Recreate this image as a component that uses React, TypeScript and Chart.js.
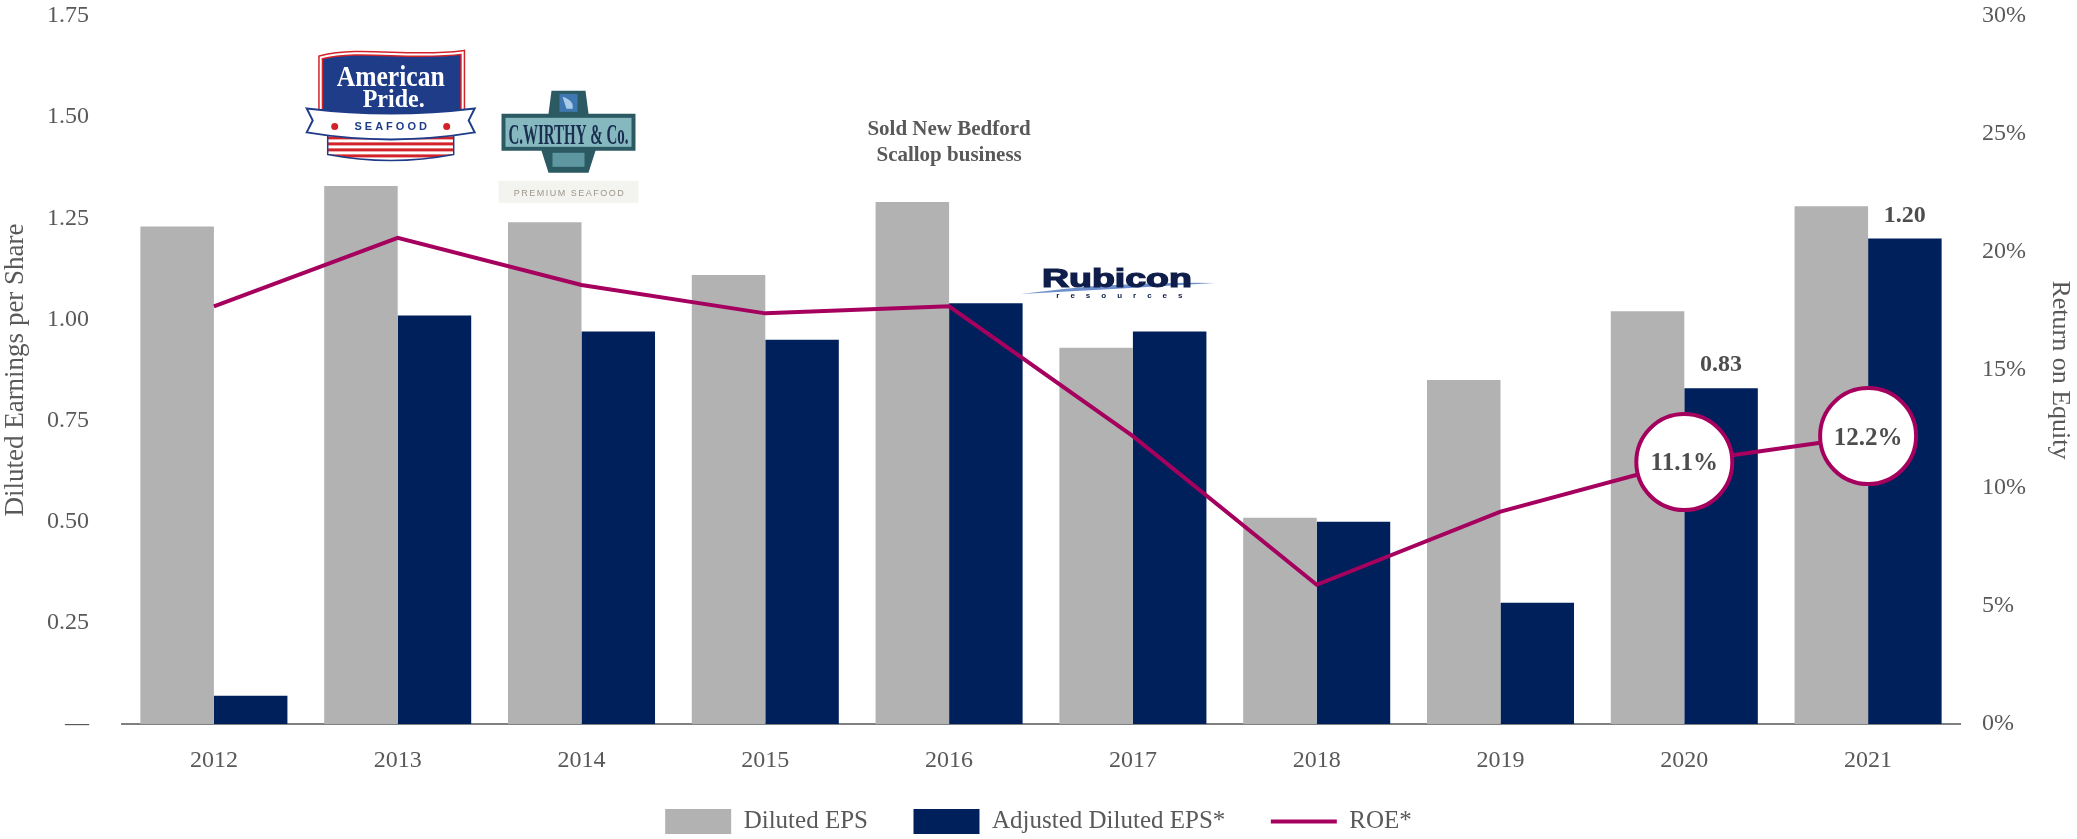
import React, { useEffect, useRef } from "react";
import { Chart, registerables } from "chart.js";

Chart.register(...registerables);

const years = ["2012", "2013", "2014", "2015", "2016", "2017", "2018", "2019", "2020", "2021"];
const dilutedEps = [1.23, 1.33, 1.24, 1.11, 1.29, 0.93, 0.51, 0.85, 1.02, 1.28];
const adjustedEps = [0.07, 1.01, 0.97, 0.95, 1.04, 0.97, 0.50, 0.30, 0.83, 1.20];
const roe = [17.7, 20.6, 18.6, 17.4, 17.7, 12.2, 5.9, 9.0, 11.1, 12.2];

const epsTicks = [0, 0.25, 0.5, 0.75, 1.0, 1.25, 1.5, 1.75];
const roeTicks = [0, 5, 10, 15, 20, 25, 30];

const adjustedLabelYears = ["2020", "2021"];
const roeCalloutYears = ["2020", "2021"];

const annotationYear = "2016";
const annotationLines = ["Sold New Bedford", "Scallop business"];

const FONT = '"Liberation Serif", "Times New Roman", serif';
const GRAY = "#B1B2B1";
const NAVY = "#00205C";
const MAGENTA = "#A6005F";
const TEXT = "#595959";

function drawAmericanPride(ctx: CanvasRenderingContext2D, cx: number, t: number) {
  ctx.save();
  ctx.save();
  ctx.beginPath();
  ctx.moveTo(cx - 63, t + 84);
  ctx.lineTo(cx + 63, t + 84);
  ctx.lineTo(cx + 63, t + 104);
  ctx.quadraticCurveTo(cx, t + 116, cx - 63, t + 104);
  ctx.closePath();
  ctx.fillStyle = "#ffffff";
  ctx.fill();
  ctx.clip();
  ctx.fillStyle = "#D2232A";
  for (let k = 0; k < 5; k++) ctx.fillRect(cx - 66, t + 86 + k * 6, 132, 3);
  ctx.restore();
  ctx.beginPath();
  ctx.moveTo(cx - 63, t + 84);
  ctx.lineTo(cx - 63, t + 104);
  ctx.quadraticCurveTo(cx, t + 116, cx + 63, t + 104);
  ctx.lineTo(cx + 63, t + 84);
  ctx.strokeStyle = "#1F3C88";
  ctx.lineWidth = 1.5;
  ctx.stroke();

  ctx.beginPath();
  ctx.moveTo(cx - 70, t + 7);
  ctx.bezierCurveTo(cx - 30, t - 3, cx + 20, t + 9, cx + 72, t + 2);
  ctx.lineTo(cx + 72, t + 70);
  ctx.lineTo(cx - 70, t + 70);
  ctx.closePath();
  ctx.fillStyle = "#1F3C88";
  ctx.fill();
  ctx.lineWidth = 5;
  ctx.strokeStyle = "#D2232A";
  ctx.stroke();
  ctx.lineWidth = 2;
  ctx.strokeStyle = "#ffffff";
  ctx.stroke();

  ctx.fillStyle = "#ffffff";
  ctx.textAlign = "center";
  ctx.textBaseline = "alphabetic";
  ctx.font = `bold 29px ${FONT}`;
  ctx.fillText("American", cx, t + 36, 108);
  ctx.font = `bold 25px ${FONT}`;
  ctx.fillText("Pride.", cx + 3, t + 57, 62);

  ctx.beginPath();
  ctx.moveTo(cx - 84, t + 58);
  ctx.quadraticCurveTo(cx, t + 68, cx + 84, t + 58);
  ctx.lineTo(cx + 78, t + 70);
  ctx.lineTo(cx + 84, t + 82);
  ctx.quadraticCurveTo(cx, t + 96, cx - 84, t + 82);
  ctx.lineTo(cx - 78, t + 70);
  ctx.closePath();
  ctx.fillStyle = "#ffffff";
  ctx.fill();
  ctx.lineWidth = 2;
  ctx.strokeStyle = "#1F3C88";
  ctx.stroke();

  ctx.fillStyle = "#1F3C88";
  ctx.font = 'bold 11px "Liberation Sans", sans-serif';
  (ctx as any).letterSpacing = "3px";
  ctx.textBaseline = "middle";
  ctx.fillText("SEAFOOD", cx + 1.5, t + 77);
  (ctx as any).letterSpacing = "0px";
  ctx.fillStyle = "#D2232A";
  [-56, 56].forEach((dx) => {
    ctx.beginPath();
    ctx.arc(cx + dx, t + 76, 3.5, 0, Math.PI * 2);
    ctx.fill();
  });
  ctx.restore();
}

function drawWirthy(ctx: CanvasRenderingContext2D, cx: number, t: number) {
  ctx.save();
  ctx.fillStyle = "#F3F3EF";
  ctx.fillRect(cx - 70, t + 92, 140, 22);
  const pts = [
    [-67, 25], [-20, 25], [-17, 2], [17, 2], [20, 25], [67, 25],
    [67, 62], [27, 62], [20, 84], [-20, 84], [-27, 62], [-67, 62],
  ];
  ctx.beginPath();
  pts.forEach(([x, y], i) => (i === 0 ? ctx.moveTo(cx + x, t + y) : ctx.lineTo(cx + x, t + y)));
  ctx.closePath();
  ctx.fillStyle = "#2C5A62";
  ctx.fill();
  ctx.fillStyle = "#86B9BF";
  ctx.fillRect(cx - 63, t + 29, 126, 29);
  ctx.fillStyle = "#5E97A0";
  ctx.fillRect(cx - 16, t + 64, 32, 14);
  ctx.fillStyle = "#3F78B0";
  ctx.fillRect(cx - 9, t + 5, 18, 18);
  ctx.fillStyle = "#A9CBEA";
  ctx.beginPath();
  ctx.moveTo(cx - 6, t + 8);
  ctx.quadraticCurveTo(cx + 6, t + 12, cx + 4, t + 20);
  ctx.lineTo(cx - 2, t + 20);
  ctx.closePath();
  ctx.fill();
  ctx.fillStyle = "#1A2E50";
  ctx.textAlign = "center";
  ctx.textBaseline = "alphabetic";
  ctx.font = `bold 30px ${FONT}`;
  ctx.fillText("C.WIRTHY & Co.", cx, t + 55, 120);
  ctx.fillStyle = "#9C968C";
  ctx.font = '9px "Liberation Sans", sans-serif';
  (ctx as any).letterSpacing = "1.5px";
  ctx.textBaseline = "middle";
  ctx.fillText("PREMIUM SEAFOOD", cx + 1, t + 105);
  (ctx as any).letterSpacing = "0px";
  ctx.restore();
}

function drawRubicon(ctx: CanvasRenderingContext2D, cx: number, base: number) {
  ctx.save();
  ctx.beginPath();
  ctx.moveTo(cx - 96, base + 7);
  ctx.quadraticCurveTo(cx, base - 6, cx + 98, base - 4);
  ctx.quadraticCurveTo(cx, base + 2, cx - 96, base + 7);
  ctx.fillStyle = "#6D8FCC";
  ctx.fill();
  ctx.translate(cx, base);
  ctx.scale(1.5, 1);
  ctx.textAlign = "center";
  ctx.textBaseline = "alphabetic";
  ctx.font = 'bold 25px "Liberation Sans", sans-serif';
  ctx.fillStyle = "#0E1D4A";
  ctx.strokeStyle = "#0E1D4A";
  ctx.lineWidth = 1.2;
  ctx.fillText("Rubicon", 0, 0);
  ctx.strokeText("Rubicon", 0, 0);
  ctx.setTransform(1, 0, 0, 1, 0, 0);
  ctx.font = 'bold 8px "Liberation Sans", sans-serif';
  (ctx as any).letterSpacing = "11px";
  ctx.fillText("resources", cx + 8, base + 11);
  (ctx as any).letterSpacing = "0px";
  ctx.restore();
}

const decorPlugin = {
  id: "decor",
  afterDatasetsDraw(chart: any) {
    const { ctx } = chart;
    const xs = chart.scales.x;
    const ys = chart.scales.y;

    drawAmericanPride(ctx, xs.getPixelForValue(years.indexOf("2013")) - 7, ys.getPixelForValue(1.665));
    drawWirthy(ctx, xs.getPixelForValue(years.indexOf("2014")) - 13, ys.getPixelForValue(1.57));
    drawRubicon(ctx, xs.getPixelForValue(years.indexOf("2017")) - 16, ys.getPixelForValue(1.08));

    ctx.save();
    ctx.textAlign = "center";
    ctx.textBaseline = "middle";
    ctx.fillStyle = TEXT;
    ctx.font = `bold 21px ${FONT}`;
    const ax = xs.getPixelForValue(years.indexOf(annotationYear));
    const ay = ys.getPixelForValue(1.47);
    annotationLines.forEach((line, k) => ctx.fillText(line, ax, ay + k * 26));

    ctx.fillStyle = "#4D4D4D";
    ctx.font = `bold 24px ${FONT}`;
    const adjMeta = chart.getDatasetMeta(1);
    adjustedLabelYears.forEach((yr) => {
      const i = years.indexOf(yr);
      const el = adjMeta.data[i];
      ctx.fillText(adjustedEps[i].toFixed(2), el.x, el.y - 23);
    });
    const roeMeta = chart.getDatasetMeta(2);
    ctx.font = `bold 25px ${FONT}`;
    roeCalloutYears.forEach((yr) => {
      const i = years.indexOf(yr);
      const el = roeMeta.data[i];
      ctx.fillText(roe[i].toFixed(1) + "%", el.x, el.y + 2);
    });
    ctx.restore();
  },
};

export default function App() {
  const ref = useRef<HTMLCanvasElement | null>(null);
  useEffect(() => {
    if (!ref.current) return;
    const chart = new Chart(ref.current, {
      type: "bar",
      data: {
        labels: years,
        datasets: [
          {
            type: "bar",
            label: "Diluted EPS",
            data: dilutedEps,
            backgroundColor: GRAY,
            borderWidth: 0,
            yAxisID: "y",
            order: 1,
            categoryPercentage: 0.8,
            barPercentage: 1.0,
          },
          {
            type: "bar",
            label: "Adjusted Diluted EPS*",
            data: adjustedEps,
            backgroundColor: NAVY,
            borderWidth: 0,
            yAxisID: "y",
            order: 1,
            categoryPercentage: 0.8,
            barPercentage: 1.0,
          },
          {
            type: "line",
            label: "ROE*",
            data: roe,
            yAxisID: "y1",
            borderColor: MAGENTA,
            backgroundColor: MAGENTA,
            borderWidth: 4,
            tension: 0,
            order: 0,
            clip: false,
            pointRadius: (c: any) => (roeCalloutYears.includes(years[c.dataIndex]) ? 48 : 0),
            pointHoverRadius: (c: any) => (roeCalloutYears.includes(years[c.dataIndex]) ? 48 : 0),
            pointBackgroundColor: "#ffffff",
            pointBorderColor: MAGENTA,
            pointBorderWidth: 4,
            pointHoverBorderWidth: 4,
          } as any,
        ],
      },
      options: {
        responsive: false,
        devicePixelRatio: 1,
        animation: false,
        events: [],
        layout: { autoPadding: false, padding: { top: 16, bottom: -5, left: 0, right: 0 } },
        scales: {
          x: {
            grid: { display: false, drawTicks: false },
            border: { display: true, color: "#808080", width: 2 },
            ticks: { font: { family: FONT, size: 24 }, color: TEXT, padding: 22 },
            afterFit: (s: any) => {
              s.height = 52;
              s.paddingLeft = 0;
              s.paddingRight = 0;
            },
          },
          y: {
            position: "left",
            min: 0,
            max: 1.75,
            afterBuildTicks: (s: any) => {
              s.ticks = epsTicks.map((v) => ({ value: v }));
            },
            ticks: {
              font: { family: FONT, size: 24 },
              color: TEXT,
              padding: 33,
              callback: (v: any) => (Number(v) === 0 ? "—" : Number(v).toFixed(2)),
            },
            grid: { display: false, drawTicks: false },
            border: { display: false },
            title: {
              display: true,
              text: "Diluted Earnings per Share",
              font: { family: FONT, size: 27 },
              color: TEXT,
              padding: { top: 0, bottom: 0 },
            },
            afterFit: (s: any) => {
              s.width = 122;
              s.paddingTop = 0;
              s.paddingBottom = 0;
            },
          },
          y1: {
            position: "right",
            min: 0,
            max: 30,
            afterBuildTicks: (s: any) => {
              s.ticks = roeTicks.map((v) => ({ value: v }));
            },
            ticks: {
              font: { family: FONT, size: 24 },
              color: TEXT,
              padding: 22,
              callback: (v: any) => `${v}%`,
            },
            grid: { display: false, drawTicks: false },
            border: { display: false },
            title: {
              display: true,
              text: "Return on Equity",
              font: { family: FONT, size: 26 },
              color: TEXT,
              padding: { top: 2, bottom: 0 },
            },
            afterFit: (s: any) => {
              s.width = 117;
              s.paddingTop = 0;
              s.paddingBottom = 0;
            },
          },
        },
        plugins: {
          tooltip: { enabled: false },
          legend: {
            position: "bottom",
            labels: {
              usePointStyle: true,
              pointStyleWidth: 66,
              boxHeight: 25,
              padding: 33,
              color: TEXT,
              font: { family: FONT, size: 25 },
              generateLabels: (ch: any) => {
                const items = (Chart.defaults.plugins.legend.labels as any).generateLabels(ch);
                items.sort((a: any, b: any) => a.datasetIndex - b.datasetIndex);
                return items.map((it: any) =>
                  it.datasetIndex === 2
                    ? { ...it, pointStyle: "line", strokeStyle: MAGENTA, fillStyle: MAGENTA, lineWidth: 4 }
                    : { ...it, text: it.text + "\u2002", pointStyle: "rect", lineWidth: 0 }
                );
              },
            },
          },
        },
      },
      plugins: [decorPlugin],
    } as any);
    return () => chart.destroy();
  }, []);

  return (
    <div style={{ position: "fixed", left: 0, top: 0, width: 2077, height: 839, background: "#ffffff" }}>
      <canvas ref={ref} width={2077} height={839} style={{ display: "block", width: 2077, height: 839 }} />
    </div>
  );
}
